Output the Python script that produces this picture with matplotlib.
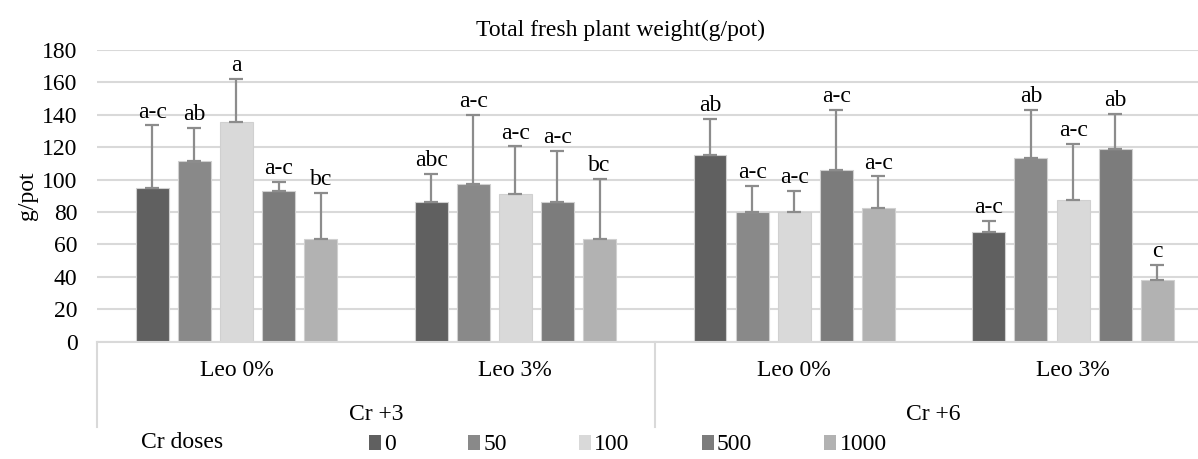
import numpy as np
import matplotlib
matplotlib.use('Agg')
import matplotlib.pyplot as plt
from matplotlib.patches import Patch
import matplotlib.transforms as mtransforms

plt.rcParams['font.family'] = ['Liberation Serif', 'DejaVu Serif']

# Данные
groups = ['Leo 0%', 'Leo 3%', 'Leo 0%', 'Leo 3%']
cr_types = ['Cr +3', 'Cr +6']
doses = ['0', '50', '100', '500', '1000']
colors = ['#606060', '#898989', '#d9d9d9', '#7c7c7c', '#b2b2b2']

# средние значения (строка = доза, столбец = группа)
means = [
    [95, 86, 115, 67.5],
    [111.5, 97, 80, 113.5],
    [135.5, 91, 80, 87.5],
    [93, 86, 106, 119],
    [63.5, 63, 82.5, 38],
]
# верх планки ошибки
err_top = [
    [133.5, 103.5, 137.5, 74.5],
    [132, 140, 96, 143],
    [162, 120.5, 93, 122],
    [98.5, 117.5, 143, 140.5],
    [92, 100.5, 102, 47.5],
]
letters = [
    ['a-c', 'abc', 'ab', 'a-c'],
    ['ab', 'a-c', 'a-c', 'ab'],
    ['a', 'a-c', 'a-c', 'a-c'],
    ['a-c', 'a-c', 'a-c', 'ab'],
    ['bc', 'bc', 'a-c', 'c'],
]

W, H = 1198, 459
fig = plt.figure(figsize=(W / 100, H / 100), dpi=100)
ax = fig.add_axes([97 / W, 1 - 341.5 / H, (1212.5 - 97) / W, 291.5 / H])

x = np.arange(len(groups))
pitch = 0.151
bw = 0.118
fs = 17

for i, d in enumerate(doses):
    xs = x + (i - 2) * pitch
    m = np.array(means[i])
    e = np.array(err_top[i]) - m
    ax.bar(xs, m, width=bw, color=colors[i], edgecolor='#d0d0d0', linewidth=0.8, zorder=2)
    eb = ax.errorbar(xs, m, yerr=[np.zeros_like(e), e], fmt='none', ecolor='#8c8c8c',
                     elinewidth=1.6, capsize=5, capthick=1.6, zorder=3)
    for cl in eb[1]:
        cl.set_color('#5a5a5a')
    for xi, top, lab in zip(xs, err_top[i], letters[i]):
        ax.annotate(lab, (xi, top), xytext=(0, 2), textcoords='offset points',
                    ha='center', va='bottom', fontsize=fs)

ax.set_xlim(-0.5, 3.5)
ax.set_ylim(0, 180)
ax.set_yticks(np.arange(0, 181, 20))
ax.tick_params(axis='y', length=0, labelsize=fs, pad=14)
ax.tick_params(axis='x', length=0, labelbottom=False)
ax.yaxis.grid(True, color='#d9d9d9', linewidth=1.5, zorder=0)
ax.set_axisbelow(True)
for s in ['left', 'right', 'top']:
    ax.spines[s].set_visible(False)
ax.spines['bottom'].set_color('#d9d9d9')
ax.spines['bottom'].set_linewidth(1.5)

# подписи категорий под осью
trans = mtransforms.blended_transform_factory(ax.transData, ax.transAxes)
def yfrac(py):
    return (341.5 - py) / 291.5

for xi, g in zip(x, groups):
    ax.text(xi, yfrac(371), g, transform=trans, ha='center', va='center', fontsize=fs)
for k, c in enumerate(cr_types):
    ax.text(2 * k + 0.5, yfrac(414), c, transform=trans, ha='center', va='center', fontsize=fs)
for sx in [-0.5, 1.5, 3.5]:
    ax.plot([sx, sx], [0, yfrac(427)], transform=trans, color='#d9d9d9',
            linewidth=1.5, clip_on=False)

ax.set_ylabel('g/pot', fontsize=fs)
ax.yaxis.set_label_coords(-(97 - 38) / (1212.5 - 97), yfrac(196))

fig.text(620 / W, 1 - 30 / H, 'Total fresh plant weight(g/pot)', ha='center', va='center', fontsize=fs)
fig.text(141 / W, 1 - 443 / H, 'Cr doses', ha='left', va='center', fontsize=fs)

handles = [Patch(facecolor=c, edgecolor='none') for c in colors]
fig.legend(handles, doses, loc='center left', bbox_to_anchor=(369 / W, 1 - 445 / H),
           ncol=5, frameon=False, fontsize=fs, handlelength=0.5, handleheight=0.6,
           handletextpad=0.15, columnspacing=3.05, borderpad=0, borderaxespad=0)

fig.savefig('out.png', dpi=100)
